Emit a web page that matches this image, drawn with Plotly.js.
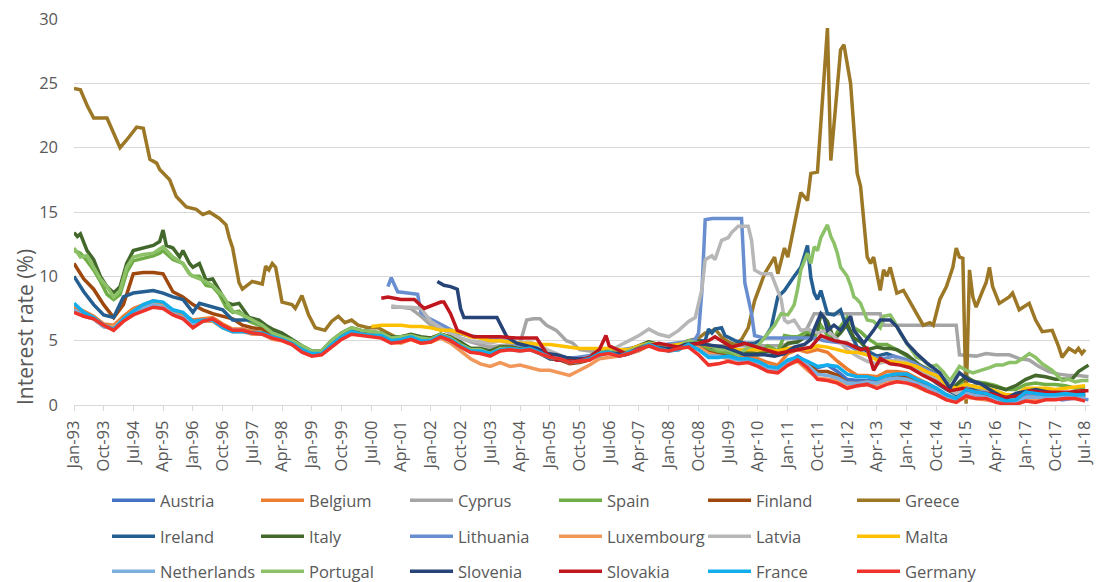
<!DOCTYPE html>
<html><head><meta charset="utf-8">
<script src="https://cdn.plot.ly/plotly-3.0.1.min.js"></script>
<style>html,body{margin:0;padding:0;background:#fff;}#chart{width:1105px;height:582px;}</style>
</head><body><div id="chart"></div>
<script>
// ---------- tick labels (every 9 months) ----------
const xTickLabels = ['Jan-93','Oct-93','Jul-94','Apr-95','Jan-96','Oct-96','Jul-97','Apr-98','Jan-99','Oct-99','Jul-00','Apr-01','Jan-02','Oct-02','Jul-03','Apr-04','Jan-05','Oct-05','Jul-06','Apr-07','Jan-08','Oct-08','Jul-09','Apr-10','Jan-11','Oct-11','Jul-12','Apr-13','Jan-14','Oct-14','Jul-15','Apr-16','Jan-17','Oct-17','Jul-18'];
const yTickValues = [0,5,10,15,20,25,30];

// ---------- quarterly series (Jan-93 ... Jul-18, every 3 months) ----------
const quarterStart = '1993-01', quarterEnd = '2018-07';
const austria = [7.4,7.0,6.7,6.1, 6.0,6.6,7.2,7.6, 7.9,7.8,7.2,6.9, 6.3,6.5,6.6,6.2, 5.8,5.8,5.7,5.6, 5.2,5.1,4.8,4.3, 4.0,4.1,4.8,5.4, 5.8,5.6,5.5,5.5, 5.1,5.1,5.3,5.0, 5.1,5.4,5.1,4.6, 4.2,4.2,3.9,4.3, 4.4,4.3,4.4,4.1, 3.7,3.6,3.3,3.4, 3.6,4.0,4.1,3.9, 4.1,4.4,4.7,4.4, 4.3,4.4,4.8,4.6, 4.4,4.2,4.0,3.7, 3.6,3.4,2.9,2.7, 3.3,3.8,3.3,2.9, 3.1,2.6,2.0,1.9, 1.9,1.8,2.0,2.2, 2.2,1.8,1.4,1.0, 0.6,0.3,1.1,0.9, 0.6,0.4,0.2,0.2, 0.6,0.6,0.7,0.6, 0.8,0.8,0.6];
const belgium = [7.6,7.3,6.9,6.3, 6.2,6.9,7.5,7.8, 8.1,7.9,7.3,7.0, 6.6,6.7,6.8,6.3, 5.9,5.9,5.7,5.6, 5.3,5.1,4.9,4.4, 4.0,4.1,4.8,5.4, 5.8,5.6,5.6,5.5, 5.1,5.2,5.4,5.1, 5.1,5.5,5.2,4.7, 4.3,4.2,4.0,4.3, 4.4,4.3,4.4,4.1, 3.7,3.6,3.3,3.4, 3.6,4.0,4.1,3.9, 4.1,4.4,4.8,4.5, 4.4,4.5,4.9,4.7, 4.2,4.0,3.9,3.7, 3.8,3.6,3.3,3.1, 4.0,4.3,4.1,4.3, 4.1,3.4,2.8,2.3, 2.3,2.2,2.6,2.6, 2.5,2.1,1.7,1.3, 0.8,0.5,1.2,1.0, 0.9,0.6,0.2,0.3, 0.9,0.8,0.7,0.7, 0.8,0.9,0.7];
const finland = [11.0,9.8,9.0,7.8, 6.8,7.8,10.2,10.3, 10.3,10.2,8.8,8.4, 7.8,7.4,7.1,6.9, 6.7,6.2,6.0,5.9, 5.4,5.2,4.9,4.4, 4.1,4.1,4.8,5.4, 5.8,5.6,5.5,5.5, 5.0,5.1,5.3,5.0, 5.0,5.4,5.1,4.6, 4.2,4.2,3.9,4.3, 4.4,4.3,4.4,4.0, 3.6,3.5,3.2,3.3, 3.5,4.0,4.1,3.9, 4.1,4.4,4.7,4.4, 4.3,4.3,4.8,4.5, 4.1,3.9,3.8,3.6, 3.6,3.3,2.9,2.7, 3.3,3.6,3.2,2.6, 2.6,2.3,1.7,1.7, 1.8,1.7,2.0,2.2, 2.1,1.8,1.4,1.0, 0.6,0.3,1.0,0.8, 0.7,0.5,0.1,0.2, 0.5,0.5,0.6,0.6, 0.8,0.8,0.7];
const luxembourg = [7.3,6.9,6.7,6.1, 6.1,6.7,7.3,7.6, 7.9,7.7,7.1,6.8, 6.4,6.5,6.5,6.0, 5.7,5.7,5.5,5.5, 5.1,5.0,4.7,4.2, 4.0,4.1,4.7,5.2, 5.6,5.5,5.4,5.3, 4.9,4.8,5.1,4.8, 4.9,5.2,4.8,4.2, 3.6,3.2,3.0,3.3, 3.0,3.1,2.9,2.7, 2.7,2.5,2.3,2.7, 3.1,3.6,3.7,3.8, 4.0,4.2,4.6,4.4, 4.3,4.4,4.7,4.5, 4.0,3.8,3.6,3.5, 3.4,3.3,3.0,2.7, 3.1,3.4,2.7,2.1, 2.0,1.9,1.6,1.5, 1.6,1.6,1.9,1.9, 1.8,1.4,1.1,0.8, 0.4,0.3,0.6,0.5, 0.4,0.3,0.1,0.1, 0.4,0.4,0.5,0.5, 0.6,0.7,0.6];
const netherlands = [7.4,6.9,6.7,6.1, 5.9,6.6,7.2,7.5, 7.8,7.6,7.1,6.8, 6.2,6.5,6.7,6.1, 5.8,5.8,5.6,5.5, 5.2,5.1,4.8,4.2, 3.9,4.0,4.6,5.2, 5.6,5.5,5.4,5.3, 4.9,5.0,5.2,4.9, 5.0,5.3,5.0,4.5, 4.1,4.1,3.9,4.3, 4.3,4.2,4.3,4.0, 3.7,3.6,3.3,3.4, 3.6,4.0,4.1,3.8, 4.0,4.3,4.7,4.4, 4.2,4.3,4.7,4.3, 3.8,3.8,3.7,3.5, 3.4,3.2,2.8,2.6, 3.2,3.6,3.1,2.4, 2.3,2.1,1.7,1.7, 1.8,1.7,2.0,2.1, 2.0,1.7,1.4,1.0, 0.6,0.3,1.0,0.8, 0.6,0.4,0.1,0.2, 0.6,0.6,0.6,0.6, 0.7,0.7,0.5];
const france = [7.9,7.2,6.8,6.2, 5.9,6.7,7.3,7.8, 8.1,8.0,7.4,7.2, 6.5,6.6,6.6,6.0, 5.7,5.7,5.6,5.6, 5.3,5.1,4.8,4.3, 4.0,4.0,4.7,5.3, 5.7,5.5,5.4,5.4, 5.0,5.1,5.3,5.0, 5.0,5.4,5.1,4.6, 4.2,4.2,4.0,4.3, 4.4,4.3,4.4,4.1, 3.7,3.6,3.3,3.4, 3.6,4.0,4.1,3.8, 4.1,4.3,4.7,4.4, 4.2,4.3,4.7,4.3, 3.7,3.7,3.8,3.6, 3.6,3.4,3.0,2.9, 3.5,3.7,3.4,3.0, 3.1,3.0,2.4,2.2, 2.2,2.0,2.3,2.4, 2.4,2.0,1.7,1.3, 0.8,0.5,1.2,1.0, 0.9,0.6,0.3,0.4, 1.0,0.9,0.8,0.8, 0.9,0.8,0.8];
const germany = [7.2,6.9,6.7,6.2, 5.8,6.5,7.0,7.3, 7.6,7.5,7.0,6.7, 6.0,6.5,6.7,6.2, 5.8,5.8,5.6,5.5, 5.2,5.0,4.7,4.1, 3.8,3.9,4.5,5.1, 5.5,5.4,5.3,5.2, 4.8,4.9,5.1,4.8, 4.9,5.3,5.0,4.5, 4.1,4.0,3.8,4.2, 4.3,4.2,4.3,4.0, 3.7,3.6,3.3,3.4, 3.5,3.9,4.0,3.8, 4.0,4.3,4.6,4.3, 4.2,4.4,4.5,3.9, 3.1,3.2,3.4,3.2, 3.3,3.0,2.6,2.5, 3.1,3.5,2.9,2.0, 1.9,1.7,1.3,1.5, 1.6,1.3,1.6,1.8, 1.7,1.5,1.1,0.8, 0.4,0.2,0.7,0.5, 0.5,0.2,0.05,0.05, 0.3,0.2,0.4,0.4, 0.5,0.5,0.3];

// ---------- irregularly read series: [month, value] ----------
const cyprus = [['2001-01',7.6],['2001-04',7.6],['2001-07',7.5],['2001-10',6.9],['2002-01',6.2],['2002-04',5.9],['2002-07',5.6],['2002-10',5.2],['2003-01',4.9],['2003-04',4.7],['2003-07',4.5],['2003-10',4.6],['2004-01',4.7],['2004-04',4.8],['2004-06',6.6],['2004-08',6.7],['2004-10',6.7],['2004-12',6.2],['2005-03',5.8],['2005-06',5.0],['2005-08',4.8],['2005-10',4.3],['2006-01',4.2],['2006-04',4.2],['2006-07',4.4],['2006-10',4.3],['2007-01',4.4],['2007-04',4.5],['2007-07',4.7],['2007-10',4.6],['2008-01',4.5],['2008-04',4.6],['2008-07',4.7],['2008-10',4.6],['2009-01',4.6],['2009-04',4.6],['2009-07',4.6],['2009-10',4.6],['2010-01',4.6],['2010-04',4.6],['2010-07',4.6],['2010-10',4.6],['2011-01',4.7],['2011-04',5.0],['2011-07',6.0],['2011-09',7.1],['2013-05',7.1],['2013-06',6.2],['2015-04',6.2],['2015-05',3.9],['2015-10',3.8],['2016-01',4.0],['2016-04',3.9],['2016-08',3.9],['2016-11',3.6],['2017-02',3.5],['2017-05',3.0],['2017-08',2.6],['2017-11',2.4],['2018-02',2.3],['2018-05',2.3],['2018-08',2.2]];
const spain = [['1993-01',12.0],['1993-03',11.8],['1993-05',11.2],['1993-07',10.5],['1993-09',9.6],['1993-11',8.6],['1994-01',8.2],['1994-03',8.6],['1994-05',10.3],['1994-07',11.2],['1994-10',11.4],['1995-01',11.6],['1995-03',11.8],['1995-04',12.0],['1995-07',11.3],['1995-10',11.0],['1995-12',10.2],['1996-01',10.0],['1996-03',10.0],['1996-05',9.3],['1996-07',9.2],['1996-09',8.6],['1996-11',7.6],['1997-01',7.2],['1997-03',7.3],['1997-06',6.5],['1997-09',6.2],['1997-11',6.0],['1998-01',5.6],['1998-04',5.3],['1998-07',5.0],['1998-10',4.5],['1999-01',4.1],['1999-04',4.2],['1999-07',4.9],['1999-10',5.5],['2000-01',5.9],['2000-04',5.7],['2000-07',5.6],['2000-10',5.6],['2001-01',5.2],['2001-04',5.3],['2001-07',5.4],['2001-10',5.2],['2002-01',5.1],['2002-04',5.5],['2002-07',5.2],['2002-10',4.7],['2003-01',4.3],['2003-04',4.3],['2003-07',4.0],['2003-10',4.4],['2004-01',4.4],['2004-04',4.3],['2004-07',4.4],['2004-10',4.1],['2005-01',3.7],['2005-04',3.6],['2005-07',3.3],['2005-10',3.4],['2006-01',3.6],['2006-04',4.0],['2006-07',4.1],['2006-10',3.9],['2007-01',4.1],['2007-04',4.4],['2007-07',4.7],['2007-10',4.5],['2008-01',4.3],['2008-04',4.4],['2008-07',4.9],['2008-10',4.7],['2009-01',4.3],['2009-04',4.1],['2009-07',4.0],['2009-10',3.9],['2010-01',4.0],['2010-04',3.9],['2010-07',4.6],['2010-10',4.2],['2010-12',5.4],['2011-02',5.3],['2011-04',5.3],['2011-07',5.7],['2011-09',5.2],['2011-11',6.2],['2012-01',5.4],['2012-03',5.2],['2012-05',6.1],['2012-07',6.8],['2012-09',6.0],['2012-11',5.7],['2013-01',5.2],['2013-04',4.7],['2013-07',4.7],['2013-10',4.3],['2014-01',3.8],['2014-04',3.2],['2014-07',2.7],['2014-10',2.1],['2015-01',1.5],['2015-04',1.3],['2015-07',2.1],['2015-10',1.8],['2016-01',1.7],['2016-04',1.5],['2016-07',1.2],['2016-10',1.2],['2017-01',1.6],['2017-04',1.7],['2017-07',1.6],['2017-10',1.6],['2018-01',1.5],['2018-04',1.3],['2018-07',1.4]];
const greece = [['1993-01',24.6],['1993-03',24.5],['1993-05',23.3],['1993-07',22.3],['1993-11',22.3],['1994-01',21.2],['1994-03',20.0],['1994-05',20.6],['1994-08',21.6],['1994-10',21.5],['1994-12',19.1],['1995-02',18.8],['1995-03',18.3],['1995-06',17.5],['1995-08',16.2],['1995-11',15.4],['1996-02',15.2],['1996-04',14.8],['1996-06',15.0],['1996-09',14.5],['1996-11',14.0],['1996-12',13.0],['1997-01',12.2],['1997-03',9.5],['1997-04',9.0],['1997-07',9.6],['1997-10',9.4],['1997-11',10.8],['1997-12',10.5],['1998-01',11.0],['1998-02',10.7],['1998-04',8.0],['1998-07',7.8],['1998-08',7.5],['1998-10',8.5],['1998-12',7.0],['1999-02',6.0],['1999-05',5.8],['1999-07',6.5],['1999-09',6.9],['1999-11',6.4],['2000-01',6.6],['2000-03',6.2],['2000-06',6.0],['2000-09',6.0],['2000-12',5.6],['2001-03',5.2],['2001-07',5.4],['2001-10',5.1],['2002-01',5.2],['2002-04',5.5],['2002-07',5.3],['2002-10',4.8],['2003-01',4.4],['2003-04',4.4],['2003-07',4.1],['2003-10',4.5],['2004-01',4.5],['2004-04',4.4],['2004-07',4.5],['2004-10',4.2],['2005-01',3.8],['2005-04',3.7],['2005-07',3.4],['2005-10',3.6],['2006-01',3.8],['2006-04',4.2],['2006-07',4.3],['2006-10',4.1],['2007-01',4.3],['2007-04',4.6],['2007-07',4.9],['2007-10',4.6],['2008-01',4.5],['2008-04',4.7],['2008-07',5.0],['2008-10',5.2],['2008-12',5.6],['2009-01',5.6],['2009-03',5.9],['2009-05',5.3],['2009-07',4.9],['2009-09',4.7],['2009-11',5.1],['2010-01',6.0],['2010-03',8.1],['2010-06',10.2],['2010-09',11.5],['2010-10',10.2],['2010-12',12.2],['2011-01',11.5],['2011-03',13.9],['2011-05',16.5],['2011-07',15.9],['2011-08',18.0],['2011-10',18.1],['2011-11',21.6],['2012-01',29.3],['2012-02',19.0],['2012-05',27.6],['2012-06',28.0],['2012-08',25.0],['2012-10',18.0],['2012-11',17.0],['2013-01',11.5],['2013-02',11.0],['2013-03',11.5],['2013-05',8.9],['2013-06',10.5],['2013-07',10.0],['2013-08',10.7],['2013-10',8.7],['2013-12',8.9],['2014-03',7.6],['2014-05',6.6],['2014-06',6.2],['2014-08',6.4],['2014-09',6.2],['2014-11',8.2],['2015-01',9.2],['2015-03',10.7],['2015-04',12.2],['2015-05',11.5],['2015-06',11.4],['2015-07',0.1],['2015-08',10.5],['2015-09',8.4],['2015-10',7.6],['2015-12',8.9],['2016-01',9.5],['2016-02',10.7],['2016-03',9.2],['2016-05',7.9],['2016-08',8.4],['2016-09',8.7],['2016-11',7.4],['2017-02',7.9],['2017-04',6.6],['2017-06',5.7],['2017-09',5.8],['2017-11',4.5],['2017-12',3.7],['2018-02',4.4],['2018-04',4.1],['2018-05',4.4],['2018-06',4.0],['2018-07',4.3]];
const ireland = [['1993-01',10.0],['1993-04',8.8],['1993-07',7.8],['1993-10',7.0],['1994-01',6.8],['1994-04',8.4],['1994-07',8.7],['1994-10',8.8],['1995-01',8.9],['1995-04',8.7],['1995-07',8.4],['1995-10',8.2],['1996-01',7.2],['1996-03',7.9],['1996-07',7.6],['1996-10',7.4],['1997-01',6.6],['1997-04',6.6],['1997-07',6.6],['1997-10',6.2],['1998-01',5.8],['1998-04',5.4],['1998-07',5.0],['1998-10',4.5],['1999-01',4.0],['1999-04',4.1],['1999-07',4.8],['1999-10',5.4],['2000-01',5.8],['2000-04',5.6],['2000-07',5.5],['2000-10',5.4],['2001-01',5.0],['2001-04',5.1],['2001-07',5.3],['2001-10',5.0],['2002-01',5.0],['2002-04',5.4],['2002-07',5.1],['2002-10',4.6],['2003-01',4.2],['2003-04',4.2],['2003-07',3.9],['2003-10',4.3],['2004-01',4.4],['2004-04',4.3],['2004-07',4.3],['2004-10',4.0],['2005-01',3.6],['2005-04',3.6],['2005-07',3.3],['2005-10',3.4],['2006-01',3.6],['2006-04',4.0],['2006-07',4.1],['2006-10',3.9],['2007-01',4.1],['2007-04',4.4],['2007-07',4.8],['2007-10',4.6],['2008-01',4.5],['2008-04',4.6],['2008-07',5.0],['2008-10',5.0],['2008-12',5.0],['2009-01',5.9],['2009-02',5.6],['2009-03',5.9],['2009-05',6.0],['2009-06',5.4],['2009-09',5.0],['2009-12',4.8],['2010-03',4.8],['2010-06',5.2],['2010-08',6.0],['2010-10',8.4],['2010-12',8.9],['2011-03',10.0],['2011-05',10.7],['2011-07',12.4],['2011-08',9.9],['2011-09',8.7],['2011-10',8.2],['2011-11',8.9],['2012-01',7.1],['2012-03',7.0],['2012-05',7.4],['2012-06',6.6],['2012-08',5.6],['2012-10',4.5],['2013-01',4.2],['2013-04',3.8],['2013-07',4.0],['2013-10',3.7],['2014-01',3.4],['2014-04',2.9],['2014-07',2.3],['2014-10',1.7],['2015-01',1.2],['2015-04',0.8],['2015-07',1.5],['2015-10',1.1],['2016-01',1.0],['2016-04',0.8],['2016-07',0.5],['2016-10',0.5],['2017-01',1.1],['2017-04',1.0],['2017-07',0.8],['2017-10',0.7],['2018-01',0.9],['2018-04',1.0],['2018-07',0.9]];
const italy = [['1993-01',13.4],['1993-02',13.1],['1993-03',13.3],['1993-05',12.0],['1993-07',11.3],['1993-09',10.0],['1993-11',9.2],['1994-01',8.7],['1994-03',9.2],['1994-05',11.0],['1994-07',12.0],['1994-10',12.2],['1995-01',12.4],['1995-03',12.7],['1995-04',13.6],['1995-05',12.4],['1995-07',12.2],['1995-09',11.5],['1995-10',12.0],['1995-12',11.0],['1996-01',10.7],['1996-03',11.0],['1996-05',9.7],['1996-07',9.8],['1996-09',8.9],['1996-11',8.0],['1997-01',7.8],['1997-03',7.9],['1997-06',6.8],['1997-09',6.6],['1997-11',6.2],['1998-01',5.9],['1998-04',5.6],['1998-07',5.1],['1998-10',4.6],['1999-01',4.2],['1999-04',4.2],['1999-07',5.0],['1999-10',5.6],['2000-01',6.0],['2000-04',5.8],['2000-07',5.7],['2000-10',5.6],['2001-01',5.3],['2001-04',5.3],['2001-07',5.5],['2001-10',5.3],['2002-01',5.2],['2002-04',5.5],['2002-07',5.3],['2002-10',4.9],['2003-01',4.4],['2003-04',4.4],['2003-07',4.2],['2003-10',4.5],['2004-01',4.5],['2004-04',4.4],['2004-07',4.6],['2004-10',4.3],['2005-01',3.9],['2005-04',3.8],['2005-07',3.5],['2005-10',3.6],['2006-01',3.8],['2006-04',4.2],['2006-07',4.3],['2006-10',4.1],['2007-01',4.3],['2007-04',4.6],['2007-07',4.9],['2007-10',4.7],['2008-01',4.5],['2008-04',4.6],['2008-07',5.0],['2008-10',5.0],['2009-01',4.6],['2009-04',4.4],['2009-07',4.4],['2009-10',4.1],['2010-01',4.1],['2010-04',4.0],['2010-07',4.2],['2010-10',4.0],['2011-01',4.8],['2011-04',4.9],['2011-07',5.4],['2011-08',5.3],['2011-10',5.9],['2011-11',7.0],['2011-12',6.8],['2012-01',6.5],['2012-03',5.1],['2012-05',5.6],['2012-07',6.3],['2012-09',5.2],['2012-11',4.9],['2013-01',4.3],['2013-04',4.5],['2013-06',4.4],['2013-08',4.4],['2013-10',4.3],['2014-01',3.9],['2014-03',3.5],['2014-05',3.1],['2014-08',2.7],['2014-10',2.4],['2015-01',1.7],['2015-03',1.3],['2015-05',1.8],['2015-07',2.2],['2015-10',1.7],['2016-01',1.6],['2016-04',1.4],['2016-07',1.2],['2016-10',1.5],['2017-01',2.0],['2017-04',2.3],['2017-07',2.2],['2017-10',2.0],['2018-01',2.0],['2018-03',2.0],['2018-05',2.6],['2018-07',2.9],['2018-08',3.1]];
const lithuania = [['2000-12',9.2],['2001-01',9.9],['2001-02',9.3],['2001-03',8.8],['2001-06',8.7],['2001-09',8.6],['2001-10',7.2],['2001-12',6.8],['2002-03',6.4],['2002-06',6.0],['2002-09',5.6],['2002-12',5.4],['2003-03',5.3],['2003-06',5.1],['2003-09',5.1],['2003-12',5.0],['2004-03',4.7],['2004-06',4.6],['2004-09',4.5],['2004-12',4.2],['2005-03',3.9],['2005-06',3.6],['2005-09',3.7],['2005-12',3.8],['2006-03',3.9],['2006-06',4.1],['2006-09',4.2],['2006-12',4.3],['2007-03',4.4],['2007-06',4.6],['2007-09',4.6],['2007-12',4.7],['2008-03',4.8],['2008-06',4.9],['2008-09',5.1],['2008-10',5.6],['2008-11',8.9],['2008-12',14.4],['2009-02',14.5],['2009-11',14.5],['2009-12',9.5],['2010-02',7.1],['2010-03',5.4],['2010-06',5.2],['2010-09',5.2],['2010-12',5.2],['2011-03',5.2],['2011-06',5.2],['2011-09',5.2],['2011-12',5.0],['2012-03',4.9],['2012-06',4.8],['2012-09',4.4],['2012-12',4.0],['2013-03',3.7],['2013-06',3.6],['2013-09',3.8],['2013-12',3.6],['2014-03',3.3],['2014-06',2.9],['2014-09',2.5],['2014-12',2.1],['2015-03',1.2],['2015-06',1.4],['2015-09',1.5],['2015-12',1.2],['2016-03',1.0],['2016-06',0.8],['2016-09',0.6],['2016-12',0.7],['2017-03',0.9],['2017-06',0.8],['2017-09',0.6],['2017-12',0.4],['2018-03',0.5],['2018-06',0.5],['2018-08',0.4]];
const latvia = [['2001-01',7.7],['2001-04',7.6],['2001-07',7.6],['2001-10',7.5],['2002-01',6.5],['2002-04',6.0],['2002-07',5.6],['2002-10',5.2],['2003-01',5.0],['2003-04',4.9],['2003-07',4.8],['2003-10',5.0],['2004-01',4.9],['2004-04',4.8],['2004-07',4.9],['2004-10',4.6],['2005-01',4.2],['2005-04',3.9],['2005-07',3.5],['2005-10',3.6],['2006-01',3.6],['2006-04',3.8],['2006-07',4.1],['2006-10',4.6],['2007-01',5.0],['2007-04',5.4],['2007-07',5.9],['2007-10',5.5],['2008-01',5.3],['2008-04',5.8],['2008-07',6.5],['2008-09',6.8],['2008-11',9.0],['2008-12',11.3],['2009-02',11.6],['2009-03',11.3],['2009-05',12.8],['2009-07',13.0],['2009-08',13.4],['2009-10',13.9],['2010-01',13.9],['2010-02',12.8],['2010-03',10.5],['2010-05',10.2],['2010-08',10.2],['2010-09',9.5],['2010-11',8.2],['2010-12',6.6],['2011-01',6.4],['2011-03',6.6],['2011-05',5.8],['2011-07',5.9],['2011-10',5.6],['2012-01',5.8],['2012-04',5.1],['2012-07',4.3],['2012-10',3.8],['2013-01',3.4],['2013-04',3.2],['2013-07',3.4],['2013-10',3.5],['2014-01',3.3],['2014-04',2.9],['2014-07',2.3],['2014-10',2.0],['2015-01',1.3],['2015-04',0.9],['2015-07',1.2],['2015-10',1.0],['2016-01',1.0],['2016-04',0.9],['2016-07',0.5],['2016-10',0.6],['2017-01',1.0],['2017-04',1.0],['2017-07',0.9],['2017-10',0.8],['2018-01',0.9],['2018-04',1.0],['2018-07',0.9]];
const malta = [['2000-07',6.1],['2000-10',6.2],['2001-01',6.2],['2001-04',6.2],['2001-07',6.1],['2001-10',6.1],['2002-01',6.0],['2002-04',5.8],['2002-07',5.8],['2002-10',5.6],['2003-01',5.3],['2003-04',5.2],['2003-07',5.0],['2003-10',5.0],['2004-01',4.9],['2004-04',4.8],['2004-07',4.8],['2004-10',4.7],['2005-01',4.7],['2005-04',4.6],['2005-07',4.5],['2005-10',4.4],['2006-01',4.4],['2006-04',4.4],['2006-07',4.4],['2006-10',4.3],['2007-01',4.3],['2007-04',4.6],['2007-07',4.8],['2007-10',4.7],['2008-01',4.6],['2008-04',4.7],['2008-07',4.9],['2008-10',4.8],['2009-01',4.6],['2009-04',4.5],['2009-07',4.5],['2009-10',4.3],['2010-01',4.3],['2010-04',4.3],['2010-07',4.3],['2010-10',4.2],['2011-01',4.4],['2011-04',4.5],['2011-07',4.3],['2011-10',4.6],['2012-01',4.5],['2012-04',4.3],['2012-07',4.1],['2012-10',4.1],['2013-01',3.9],['2013-04',3.5],['2013-07',3.4],['2013-10',3.3],['2014-01',3.2],['2014-04',3.0],['2014-07',2.6],['2014-10',2.3],['2015-01',1.6],['2015-04',1.3],['2015-07',1.6],['2015-10',1.4],['2016-01',1.3],['2016-04',1.1],['2016-07',0.8],['2016-10',0.8],['2017-01',1.3],['2017-04',1.3],['2017-07',1.3],['2017-10',1.2],['2018-01',1.3],['2018-04',1.4],['2018-07',1.5]];
const portugal = [['1993-01',12.2],['1993-03',11.5],['1993-05',11.6],['1993-07',10.7],['1993-09',9.8],['1993-11',9.2],['1994-01',8.4],['1994-03',8.9],['1994-05',10.7],['1994-07',11.5],['1994-10',11.7],['1995-01',11.8],['1995-04',12.3],['1995-07',11.5],['1995-10',11.0],['1995-12',10.2],['1996-01',10.0],['1996-04',9.7],['1996-07',9.3],['1996-10',8.5],['1997-01',7.3],['1997-04',7.0],['1997-07',6.6],['1997-10',6.2],['1998-01',5.6],['1998-04',5.3],['1998-07',5.0],['1998-10',4.6],['1999-01',4.2],['1999-04',4.2],['1999-07',5.0],['1999-10',5.6],['2000-01',6.0],['2000-04',5.8],['2000-07',5.7],['2000-10',5.6],['2001-01',5.2],['2001-04',5.3],['2001-07',5.4],['2001-10',5.2],['2002-01',5.1],['2002-04',5.5],['2002-07',5.2],['2002-10',4.7],['2003-01',4.3],['2003-04',4.3],['2003-07',4.0],['2003-10',4.4],['2004-01',4.4],['2004-04',4.3],['2004-07',4.4],['2004-10',4.1],['2005-01',3.7],['2005-04',3.6],['2005-07',3.4],['2005-10',3.5],['2006-01',3.7],['2006-04',4.1],['2006-07',4.2],['2006-10',4.0],['2007-01',4.2],['2007-04',4.5],['2007-07',4.8],['2007-10',4.6],['2008-01',4.4],['2008-04',4.5],['2008-07',5.0],['2008-10',4.8],['2009-01',4.7],['2009-04',4.3],['2009-07',4.3],['2009-10',3.9],['2010-01',4.5],['2010-04',4.6],['2010-07',5.6],['2010-09',6.2],['2010-11',7.1],['2011-01',7.0],['2011-02',7.4],['2011-03',7.8],['2011-04',9.0],['2011-05',10.5],['2011-07',11.8],['2011-08',11.0],['2011-09',12.3],['2011-10',12.0],['2011-11',13.0],['2011-12',13.5],['2012-01',14.0],['2012-02',13.1],['2012-03',12.6],['2012-04',11.8],['2012-05',10.7],['2012-07',10.0],['2012-08',9.3],['2012-09',8.4],['2012-10',8.2],['2012-11',7.9],['2012-12',7.2],['2013-01',6.6],['2013-03',6.5],['2013-05',6.0],['2013-06',6.9],['2013-08',7.0],['2013-09',6.6],['2013-11',5.6],['2014-01',4.8],['2014-02',4.4],['2014-04',3.7],['2014-06',3.5],['2014-08',3.0],['2014-10',3.1],['2014-12',2.6],['2015-02',1.9],['2015-03',2.2],['2015-05',3.0],['2015-07',2.7],['2015-09',2.5],['2015-12',2.7],['2016-02',2.9],['2016-04',3.1],['2016-06',3.1],['2016-08',3.3],['2016-10',3.3],['2016-12',3.6],['2017-02',4.0],['2017-04',3.7],['2017-06',3.2],['2017-09',2.7],['2017-11',2.2],['2017-12',1.9],['2018-02',2.0],['2018-04',1.8],['2018-06',1.9],['2018-08',1.9]];
const slovenia = [['2002-03',9.6],['2002-05',9.3],['2002-07',9.2],['2002-09',9.0],['2002-10',7.5],['2002-11',6.8],['2003-03',6.8],['2003-06',6.8],['2003-09',6.8],['2003-12',5.3],['2004-03',4.8],['2004-06',4.6],['2004-09',4.4],['2004-12',4.0],['2005-03',3.9],['2005-06',3.7],['2005-09',3.6],['2005-12',3.6],['2006-03',3.8],['2006-06',4.1],['2006-09',4.0],['2006-12',3.9],['2007-03',4.2],['2007-06',4.6],['2007-09',4.5],['2007-12',4.4],['2008-03',4.4],['2008-06',4.7],['2008-09',4.8],['2008-12',4.7],['2009-03',4.6],['2009-06',4.5],['2009-09',4.2],['2009-12',3.9],['2010-03',3.9],['2010-06',3.9],['2010-09',3.8],['2010-12',4.0],['2011-03',4.5],['2011-06',4.7],['2011-08',5.1],['2011-09',5.9],['2011-11',7.1],['2011-12',6.8],['2012-01',5.8],['2012-03',6.2],['2012-05',5.8],['2012-08',6.9],['2012-09',5.8],['2012-12',4.8],['2013-03',5.8],['2013-05',6.6],['2013-08',6.6],['2013-10',6.1],['2014-01',4.8],['2014-04',4.0],['2014-07',3.3],['2014-11',2.5],['2015-02',1.3],['2015-05',2.5],['2015-08',1.9],['2015-11',1.7],['2016-04',0.9],['2016-07',0.5],['2016-10',0.9],['2017-04',1.2],['2017-10',0.9],['2018-03',0.9],['2018-07',0.9]];
const slovakia = [['2000-10',8.3],['2000-12',8.4],['2001-04',8.2],['2001-08',8.2],['2001-11',7.5],['2002-04',8.0],['2002-05',8.0],['2002-07',7.1],['2002-09',5.8],['2003-02',5.3],['2003-10',5.3],['2004-03',5.2],['2004-09',5.2],['2004-12',4.0],['2005-03',3.5],['2005-09',3.4],['2006-01',3.7],['2006-04',4.3],['2006-06',5.4],['2006-07',4.6],['2006-12',4.0],['2007-05',4.5],['2007-10',4.8],['2008-04',4.5],['2008-10',4.8],['2009-01',5.0],['2009-03',5.3],['2009-08',4.5],['2009-12',4.8],['2010-06',4.3],['2010-10',4.0],['2011-04',4.3],['2011-08',4.5],['2011-11',5.4],['2012-03',5.0],['2012-07',4.8],['2012-11',4.3],['2013-01',4.4],['2013-03',2.7],['2013-05',3.6],['2013-08',3.2],['2013-11',3.1],['2014-02',2.9],['2014-06',2.3],['2014-10',1.8],['2015-02',1.1],['2015-06',1.3],['2015-10',1.0],['2016-02',0.9],['2016-07',0.6],['2016-11',0.7],['2017-02',1.1],['2017-06',1.0],['2017-10',1.0],['2018-02',1.0],['2018-06',1.1],['2018-08',1.1]];

// ---------- legend order / colours ----------
const countryNames = ['Austria','Belgium','Cyprus','Spain','Finland','Greece','Ireland','Italy','Lithuania','Luxembourg','Latvia','Malta','Netherlands','Portugal','Slovenia','Slovakia','France','Germany'];
const countryColors = ['#4472C4','#ED7D31','#A5A5A5','#70AD47','#9E480E','#9C7726','#255E91','#43682B','#698ED0','#F1975A','#B7B7B7','#FFC000','#7CAFDD','#8CC168','#264478','#C0161E','#12ADEC','#F0332A'];
const countryData = [austria,belgium,cyprus,spain,finland,greece,ireland,italy,lithuania,luxembourg,latvia,malta,netherlands,portugal,slovenia,slovakia,france,germany];

// ---------- helpers ----------
const MONTHS = {Jan:1,Feb:2,Mar:3,Apr:4,May:5,Jun:6,Jul:7,Aug:8,Sep:9,Oct:10,Nov:11,Dec:12};
function labelToDate(l){const [m,y]=l.split('-');const yy=+y<50?2000+ +y:1900+ +y;return yy+'-'+String(MONTHS[m]).padStart(2,'0')+'-01';}
function quarterGrid(){const out=[];let [y,m]=quarterStart.split('-').map(Number);const [ey,em]=quarterEnd.split('-').map(Number);
  while(y<ey||(y===ey&&m<=em)){out.push(y+'-'+String(m).padStart(2,'0')+'-01');m+=3;if(m>12){m-=12;y++;}}return out;}
const qDates = quarterGrid();

const traces = countryData.map((d,i)=>{
  let x,y;
  if(typeof d[0]==='number'){x=qDates.slice(0,d.length);y=d;}
  else {x=d.map(p=>p[0]+'-01');y=d.map(p=>p[1]);}
  return {type:'scatter',mode:'lines',name:countryNames[i],x:x,y:y,
    line:{color:countryColors[i],width:3.5},
    legend: i<6?'legend':(i<12?'legend2':'legend3'),hoverinfo:'skip'};
});

const font = {family:'"Open Sans", sans-serif',size:16.5,color:'#595959'};
function legendRow(topPx){return {orientation:'h',xref:'container',yref:'container',x:107/1105,y:1-topPx/582,
  xanchor:'left',yanchor:'top',entrywidth:91,itemwidth:43,font:font,bgcolor:'rgba(0,0,0,0)',itemclick:false,itemdoubleclick:false};}

const layout = {
  width:1105,height:582,
  margin:{l:74,r:15,t:19,b:177,autoexpand:false},
  paper_bgcolor:'#fff',plot_bgcolor:'#fff',
  font:font,
  showlegend:true,
  legend:legendRow(483),legend2:legendRow(519),legend3:legendRow(554),
  xaxis:{type:'date',range:['1993-01-01','2018-08-15'],tickmode:'array',
    tickvals:xTickLabels.map(labelToDate),ticktext:xTickLabels,tickangle:-90,
    ticks:'outside',ticklen:5,tickcolor:'#d9d9d9',tickfont:font,ticklabelstandoff:3,
    showgrid:false,showline:true,linecolor:'#d9d9d9',linewidth:1,zeroline:false,fixedrange:true},
  yaxis:{range:[0,30],tickmode:'array',tickvals:yTickValues,ticks:'',tickfont:font,ticklabelstandoff:15,
    showgrid:true,gridcolor:'#d9d9d9',gridwidth:1,showline:false,zeroline:false,fixedrange:true},
  annotations:[{text:'Interest rate (%)',textangle:-90,xref:'paper',yref:'paper',x:-49/1016,y:(405-327)/386,
    xanchor:'center',yanchor:'middle',showarrow:false,font:{family:'"Open Sans", sans-serif',size:21,color:'#595959'}}]
};
Plotly.newPlot('chart',traces,layout,{displayModeBar:false,staticPlot:true});
</script>
</body></html>
